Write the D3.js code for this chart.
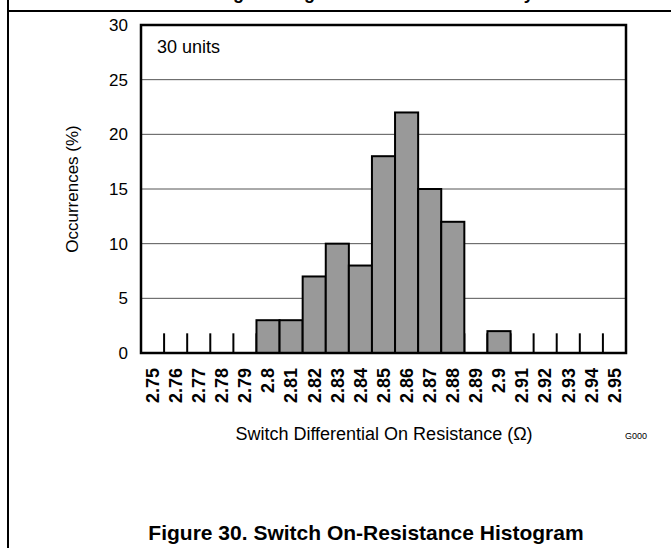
<!DOCTYPE html>
<html><head><meta charset="utf-8">
<script src="https://cdn.jsdelivr.net/npm/d3@7"></script>
<style>body{margin:0;background:#fff}svg{display:block}</style>
</head><body>
<script>
const categories = ["2.75","2.76","2.77","2.78","2.79","2.8","2.81","2.82","2.83","2.84","2.85","2.86","2.87","2.88","2.89","2.9","2.91","2.92","2.93","2.94","2.95"];
const occurrences = [0,0,0,0,0,3,3,7,10,8,18,22,15,12,0,2,0,0,0,0,0];
const yTicks = [0,5,10,15,20,25,30];

const W = 671, H = 548;
const m = {left:141, top:25, right:626, bottom:353};
const svg = d3.select("body").append("svg").attr("width",W).attr("height",H);
const font = "Arial, 'Liberation Sans', Helvetica, sans-serif";

// page frame
svg.append("line").attr("x1",8).attr("x2",8).attr("y1",0).attr("y2",H).attr("stroke","#000").attr("stroke-width",2);
svg.append("line").attr("x1",8).attr("x2",W).attr("y1",11).attr("y2",11).attr("stroke","#000").attr("stroke-width",2);
// clipped header title from the previous figure (only descenders visible)
svg.append("text").attr("x",182).attr("y",-1)
  .attr("font-family",font).attr("font-weight","bold").attr("font-size",18)
  .text("Leakage Histogram Across the Full Array");

const x = d3.scaleBand().domain(categories).range([m.left,m.right]).padding(0);
const y = d3.scaleLinear().domain([0,30]).range([m.bottom,m.top]);

// gridlines
svg.append("g").selectAll("line").data(yTicks.filter(d=>d>0&&d<30)).join("line")
  .attr("x1",m.left).attr("x2",m.right).attr("y1",d=>y(d)).attr("y2",d=>y(d))
  .attr("stroke","#555").attr("stroke-width",1);

// boundary tick marks
const bw = x.bandwidth();
svg.append("g").selectAll("line").data(categories.slice(1)).join("line")
  .attr("x1",d=>x(d)).attr("x2",d=>x(d)).attr("y1",y(0)).attr("y2",y(1.8))
  .attr("stroke","#000").attr("stroke-width",2);

// bars
svg.append("g").selectAll("rect").data(categories.map((c,i)=>({c,v:occurrences[i]})).filter(d=>d.v>0)).join("rect")
  .attr("x",d=>x(d.c)).attr("width",bw).attr("y",d=>y(d.v)).attr("height",d=>y(0)-y(d.v))
  .attr("fill","#999").attr("stroke","#000").attr("stroke-width",2);

// plot frame
svg.append("rect").attr("x",m.left).attr("y",m.top).attr("width",m.right-m.left).attr("height",m.bottom-m.top)
  .attr("fill","none").attr("stroke","#000").attr("stroke-width",2.5);

// y axis labels
const yAxis = svg.append("g").attr("transform",`translate(${m.left},0)`)
  .call(d3.axisLeft(y).tickValues(yTicks).tickSize(0).tickPadding(13));
yAxis.select(".domain").remove();
yAxis.selectAll("text").attr("font-family",font).attr("font-size",17).attr("fill","#000");

// x axis labels
const xAxis = svg.append("g").attr("transform",`translate(0,${m.bottom})`)
  .call(d3.axisBottom(x).tickSize(0));
xAxis.select(".domain").remove();
xAxis.selectAll("text").attr("font-family",font).attr("font-size",18).attr("font-weight","bold").attr("fill","#000")
  .attr("transform","rotate(-90)").attr("text-anchor","end").attr("x",-15).attr("y",0).attr("dy","0.35em");

// titles
svg.append("text").attr("transform",`translate(78,${(m.top+m.bottom)/2}) rotate(-90)`).attr("text-anchor","middle")
  .attr("font-family",font).attr("font-size",17).text("Occurrences (%)");
svg.append("text").attr("x",384).attr("y",440).attr("text-anchor","middle")
  .attr("font-family",font).attr("font-size",18).text("Switch Differential On Resistance (Ω)");
svg.append("text").attr("x",625).attr("y",439).attr("font-family",font).attr("font-size",9).text("G000");
svg.append("text").attr("x",157).attr("y",53).attr("font-family",font).attr("font-size",18).text("30 units");
svg.append("text").attr("x",366).attr("y",540).attr("text-anchor","middle")
  .attr("font-family",font).attr("font-weight","bold").attr("font-size",21).text("Figure 30. Switch On-Resistance Histogram");
</script>
</body></html>
